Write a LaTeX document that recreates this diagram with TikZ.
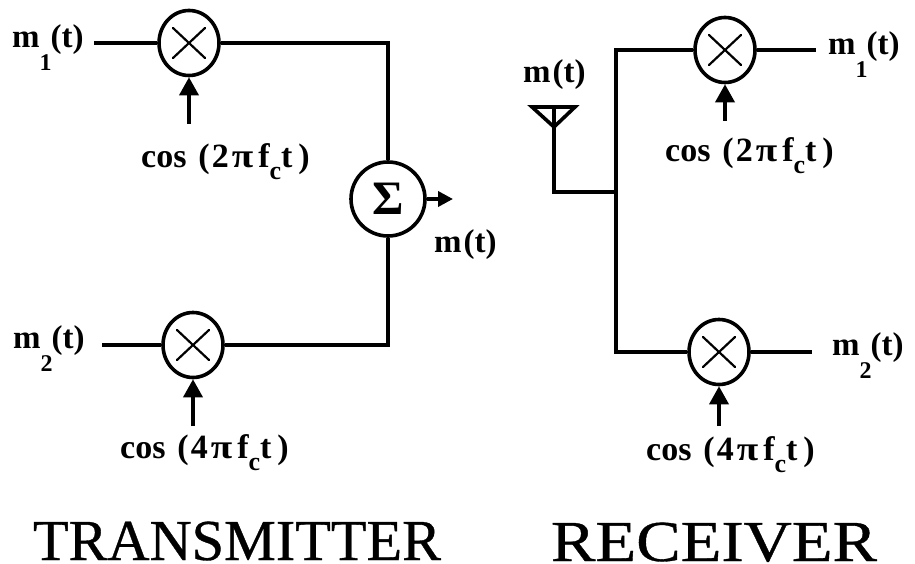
\documentclass[tikz,border=0pt]{standalone}
\usepackage{fontspec}
\setmainfont{Liberation Serif}
\newfontfamily\titlefont[FakeBold=0.6]{Liberation Serif}
\usetikzlibrary{arrows.meta,calc,shapes.geometric}
\newcommand{\subsig}[1]{m\raisebox{-23pt}[0pt][0pt]{\fontsize{24}{24}\selectfont #1}\kern-1pt(t)}
\newcommand{\carrier}[1]{cos\kern12pt(\kern2pt#1\kern3pt\scalebox{1.15}[1]{π}\kern5pt f\raisebox{-12pt}[0pt][0pt]{\fontsize{26}{26}\selectfont c}t\kern6pt)}

\begin{document}
\begin{tikzpicture}[
  x=1pt, y=-1pt,
  >={Triangle[length=18pt, width=19pt]},
  mixer/.style={ellipse, draw=black, line width=3.6pt, minimum width=60pt, minimum height=65pt, inner sep=0pt, fill=white,
                path picture={\draw[line width=2.2pt, line cap=round]
                  ($(path picture bounding box.center)+(-16pt,-15pt)$) -- ($(path picture bounding box.center)+(16pt,15pt)$)
                  ($(path picture bounding box.center)+(-16pt,15pt)$) -- ($(path picture bounding box.center)+(16pt,-15pt)$);}},
  adder/.style={circle, draw=black, line width=3.6pt, minimum size=74pt, inner sep=0pt, fill=white,
                font=\fontsize{48}{48}\selectfont\bfseries},
  wire/.style={line width=3.6pt, draw=black, line cap=butt, line join=miter},
  feed/.style={wire, ->},
  lbl/.style={font=\fontsize{33}{33}\selectfont\bfseries, inner sep=0pt, anchor=base west},
  carlbl/.style={lbl, font=\fontsize{34}{34}\selectfont\bfseries},
  title/.style={font=\fontsize{58}{58}\selectfont\titlefont, inner sep=0pt, anchor=base},
]
\useasboundingbox (0,0) rectangle (915,564);

% ---- transmitter ----
\node[mixer] (mixTa) at (189,43) {};
\node[mixer] (mixTb) at (193,345) {};
\node[adder] (sum) at (388,199) {Σ};
\node[lbl] (inTa) at (12,48) {\subsig{1}};
\node[lbl] (inTb) at (13,348) {\subsig{2}};
\node[carlbl] (carTa) at (141,168) {\carrier{2}};
\node[carlbl] (carTb) at (120,458) {\carrier{4}};
\node[lbl] (outT) at (434,252) {m\kern2pt(t)};
\coordinate (inTaEnd) at (94,43);
\coordinate (inTbEnd) at (102,345);
\coordinate (carTaEnd) at (189,124);
\coordinate (carTbEnd) at (193,426);
\coordinate (outTEnd) at (453,199);

\draw[wire] (inTaEnd) -- (mixTa);
\draw[wire] (inTbEnd) -- (mixTb);
\draw[wire] (mixTa.east) -| (sum.north);
\draw[wire] (mixTb.east) -| (sum.south);
\draw[feed] (carTaEnd) -- (mixTa.south);
\draw[feed] (carTbEnd) -- (mixTb.south);
\draw[wire, -{Triangle[length=15pt, width=15pt]}] (sum.east) -- (outTEnd);

% ---- receiver ----
\node[mixer] (mixRa) at (725,50) {};
\node[mixer] (mixRb) at (719,352) {};
\node[lbl] (inR) at (523,83) {m\kern2pt(t)};
\node[lbl] (outRa) at (828,55) {\subsig{1}};
\node[lbl] (outRb) at (832,355) {\subsig{2}};
\node[carlbl] (carRa) at (665,162) {\carrier{2}};
\node[carlbl] (carRb) at (646,460) {\carrier{4}};
\coordinate (aerialL) at (532,107);
\coordinate (aerialR) at (575,107);
\coordinate (aerialT) at (554,127);
\coordinate (aerialTop) at (554,107);
\coordinate (branch) at (616,192);
\coordinate (outRaEnd) at (816,50);
\coordinate (outRbEnd) at (812,352);
\coordinate (carRaEnd) at (725,121);
\coordinate (carRbEnd) at (719,426);

\draw[wire] (aerialL) -- (aerialR) -- (aerialT) -- cycle;
\draw[wire] (aerialTop) |- (branch);
\draw[wire] (mixRa.west) -| (branch) |- (mixRb.west);
\draw[wire] (mixRa) -- (outRaEnd);
\draw[wire] (mixRb) -- (outRbEnd);
\draw[feed] (carRaEnd) -- (mixRa.south);
\draw[feed] (carRbEnd) -- (mixRb.south);

% ---- titles ----
\node[title] (tx) at (237,560) {\scalebox{1.005}[1]{TRANSMITTER}};
\node[title] (rx) at (714,561) {\scalebox{1.15}[1]{RECEIVER}};
\end{tikzpicture}
\end{document}
